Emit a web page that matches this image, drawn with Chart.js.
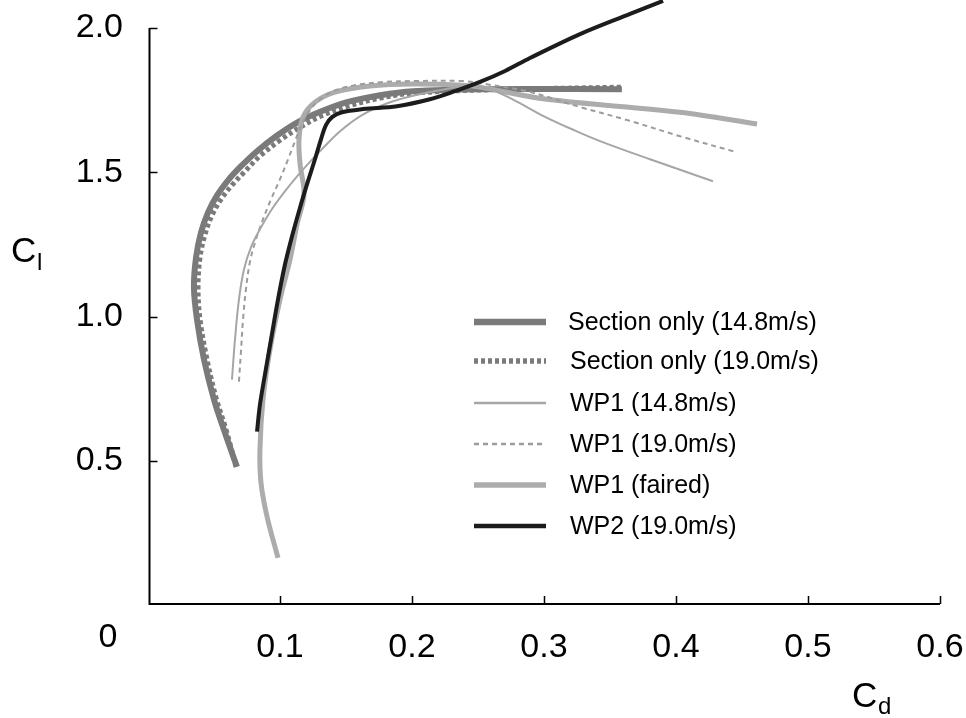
<!DOCTYPE html>
<html>
<head>
<meta charset="utf-8">
<title>Cl vs Cd</title>
<script src="https://cdn.jsdelivr.net/npm/chart.js@4.4.1/dist/chart.umd.min.js"></script>
<style>
    html, body { margin: 0; padding: 0; background: #fff; }
    #chart-cl-cd { display: block; }
</style>
</head>
<body>
<canvas id="chart-cl-cd" width="966" height="718"></canvas>
<script>
"use strict";

// Series: drag coefficient (Cd) and lift coefficient (Cl)
let sectionSlowCd = [0.0674, 0.0583, 0.0500, 0.0424, 0.0371, 0.0348, 0.0364, 0.0402, 0.0455, 0.0523, 0.0606, 0.0705, 0.0826, 0.0970, 0.1136, 0.1318, 0.1508, 0.1758, 0.2008, 0.2515, 0.3590];
let sectionSlowCl = [0.479, 0.597, 0.712, 0.851, 0.990, 1.101, 1.205, 1.292, 1.361, 1.420, 1.472, 1.521, 1.573, 1.625, 1.674, 1.712, 1.743, 1.767, 1.781, 1.788, 1.788];

let sectionFastCd = [0.0667, 0.0591, 0.0515, 0.0447, 0.0394, 0.0379, 0.0394, 0.0432, 0.0485, 0.0553, 0.0636, 0.0735, 0.0848, 0.0992, 0.1152, 0.1326, 0.1515, 0.1758, 0.2008, 0.2515, 0.3590];
let sectionFastCl = [0.479, 0.608, 0.719, 0.851, 0.990, 1.101, 1.205, 1.285, 1.351, 1.406, 1.455, 1.503, 1.556, 1.608, 1.656, 1.698, 1.729, 1.757, 1.774, 1.785, 1.795];

let wp1SlowCd = [0.0636, 0.0659, 0.0689, 0.0727, 0.0780, 0.0856, 0.0947, 0.1061, 0.1189, 0.1318, 0.1455, 0.1621, 0.1818, 0.2023, 0.2250, 0.2439, 0.2606, 0.2773, 0.3000, 0.3227, 0.3424, 0.3803, 0.4280];
let wp1SlowCl = [0.781, 0.920, 1.059, 1.163, 1.240, 1.309, 1.378, 1.448, 1.517, 1.580, 1.642, 1.698, 1.740, 1.767, 1.788, 1.799, 1.785, 1.750, 1.694, 1.646, 1.608, 1.545, 1.469];

let wp1FastCd = [0.0689, 0.0705, 0.0720, 0.0742, 0.0773, 0.0818, 0.0871, 0.0932, 0.1000, 0.1061, 0.1114, 0.1159, 0.1212, 0.1288, 0.1402, 0.1568, 0.1795, 0.2008, 0.2386, 0.2553, 0.2894, 0.3273, 0.3629, 0.4030, 0.4462];
let wp1FastCl = [0.774, 0.885, 0.990, 1.094, 1.191, 1.267, 1.337, 1.406, 1.476, 1.545, 1.608, 1.660, 1.705, 1.747, 1.781, 1.802, 1.813, 1.816, 1.816, 1.806, 1.778, 1.726, 1.681, 1.625, 1.569];

let wp1FairedCd = [0.0985, 0.0902, 0.0856, 0.0848, 0.0871, 0.0924, 0.1000, 0.1076, 0.1129, 0.1182, 0.1152, 0.1144, 0.1174, 0.1265, 0.1417, 0.1682, 0.2008, 0.2386, 0.2515, 0.3023, 0.4030, 0.4614];
let wp1FairedCl = [0.163, 0.306, 0.424, 0.538, 0.712, 0.885, 1.059, 1.198, 1.319, 1.424, 1.528, 1.615, 1.691, 1.743, 1.778, 1.799, 1.806, 1.802, 1.795, 1.753, 1.708, 1.667];

let wp2FastCd = [0.0826, 0.0848, 0.0886, 0.0932, 0.0985, 0.1038, 0.1091, 0.1152, 0.1212, 0.1265, 0.1311, 0.1348, 0.1394, 0.1470, 0.1629, 0.1886, 0.2136, 0.2326, 0.2515, 0.2705, 0.2894, 0.3273, 0.3652, 0.3902];
let wp2FastCl = [0.601, 0.694, 0.799, 0.920, 1.059, 1.181, 1.278, 1.378, 1.469, 1.545, 1.615, 1.663, 1.691, 1.708, 1.719, 1.729, 1.753, 1.781, 1.813, 1.851, 1.896, 1.979, 2.049, 2.094];

let seriesLabels = ["Section only (14.8m/s)", "Section only (19.0m/s)", "WP1 (14.8m/s)", "WP1 (19.0m/s)", "WP1 (faired)", "WP2 (19.0m/s)"];

// Tick labels
let xTicks = [0.1, 0.2, 0.3, 0.4, 0.5, 0.6];
let yTicks = [0.5, 1.0, 1.5, 2.0];

let fontName = "'Liberation Sans', Arial, Helvetica, sans-serif";

function toPoints(cd, cl) {
    let pts = [];
    for (let i = 0; i < cd.length; i++) {
        pts.push({ x: cd[i], y: cl[i] });
    }
    return pts;
}

function makeSet(label, cd, cl, color, width, dash, order) {
    return {
        "label": label,
        "data": toPoints(cd, cl),
        "showLine": true,
        "borderColor": color,
        "backgroundColor": color,
        "borderWidth": width,
        "borderDash": dash,
        "borderCapStyle": "butt",
        "pointRadius": 0,
        "tension": 0.35,
        "fill": false,
        "clip": false,
        "order": order
    };
}

let datasets = [
    makeSet(seriesLabels[0], sectionSlowCd, sectionSlowCl, "#7a7a7a", 6, [], 6),
    makeSet(seriesLabels[1], sectionFastCd, sectionFastCl, "#7a7a7a", 5, [4, 3], 5),
    makeSet(seriesLabels[2], wp1SlowCd, wp1SlowCl, "#a6a6a6", 2, [], 2),
    makeSet(seriesLabels[3], wp1FastCd, wp1FastCl, "#9c9c9c", 2, [5, 4], 3),
    makeSet(seriesLabels[4], wp1FairedCd, wp1FairedCl, "#acacac", 5, [], 4),
    makeSet(seriesLabels[5], wp2FastCd, wp2FastCl, "#1c1c1c", 4, [], 1)
];

// Axis lines, inward ticks, the lone "0", axis titles and the legend
let decorPlugin = {
    id: "decor",
    afterDraw(chart) {
        let ctx = chart.ctx;
        let xs = chart.scales.x;
        let ys = chart.scales.y;

        ctx.save();
        ctx.strokeStyle = "#000";
        ctx.lineWidth = 2;
        let ax = xs.getPixelForValue(0) + 1.5;
        let ay = ys.getPixelForValue(0) - 1;
        ctx.beginPath();
        ctx.moveTo(ax, ys.getPixelForValue(2.0));
        ctx.lineTo(ax, ay);
        ctx.lineTo(xs.getPixelForValue(0.6), ay);
        ctx.stroke();

        ctx.lineWidth = 1.5;
        ctx.beginPath();
        xTicks.forEach(function (v) {
            let px = Math.round(xs.getPixelForValue(v)) + 0.5;
            ctx.moveTo(px, ay);
            ctx.lineTo(px, ay - 8);
        });
        yTicks.forEach(function (v) {
            let py = Math.round(ys.getPixelForValue(v)) + 0.5;
            ctx.moveTo(ax, py);
            ctx.lineTo(ax + 8, py);
        });
        ctx.stroke();

        ctx.fillStyle = "#000";
        ctx.font = "34px " + fontName;
        ctx.textAlign = "center";
        ctx.textBaseline = "middle";
        ctx.fillText("0", xs.getPixelForValue(0) - 40, 638);

        // axis titles with subscripts
        ctx.textAlign = "left";
        ctx.textBaseline = "alphabetic";
        ctx.font = "35px " + fontName;
        ctx.fillText("C", 11, 262);
        ctx.fillText("C", 852, 707);
        ctx.font = "24px " + fontName;
        ctx.fillText("l", 37, 270);
        ctx.fillText("d", 878, 714);

        // legend
        let rowY = [322, 361, 403, 444, 485, 526];
        ctx.font = "25px " + fontName;
        ctx.textBaseline = "middle";
        for (let i = 0; i < datasets.length; i++) {
            let ds = datasets[i];
            ctx.strokeStyle = ds.borderColor;
            ctx.lineWidth = ds.borderWidth + 0.5;
            ctx.lineCap = "butt";
            ctx.setLineDash(ds.borderDash);
            ctx.beginPath();
            ctx.moveTo(474, rowY[i]);
            ctx.lineTo(546, rowY[i]);
            ctx.stroke();
            ctx.setLineDash([]);
            ctx.fillStyle = "#000";
            ctx.fillText(ds.label, i === 0 ? 568 : 570, rowY[i] + 1);
        }
        ctx.restore();
    }
};

let canvas = document.getElementById("chart-cl-cd");

let myChart = new Chart(canvas, {
    "type": "scatter",
    "data": { "datasets": datasets },
    "options": {
        responsive: false,
        animation: false,
        layout: { padding: { left: 0, top: 28, right: 26, bottom: 0 } },
        plugins: {
            legend: { display: false },
            tooltip: { enabled: false }
        },
        scales: {
            x: {
                type: "linear",
                min: 0,
                max: 0.6,
                afterFit: function (scale) {
                    scale.height = 113;
                    scale.paddingLeft = 0;
                    scale.paddingRight = 0;
                },
                afterBuildTicks: function (scale) {
                    scale.ticks = xTicks.map(function (v) { return { value: v }; });
                },
                grid: { display: false, drawTicks: false },
                border: { display: false },
                ticks: {
                    autoSkip: false,
                    maxRotation: 0,
                    padding: 22,
                    color: "#000",
                    font: { family: fontName, size: 34 },
                    callback: function (v) { return Number(v).toFixed(1); }
                }
            },
            y: {
                type: "linear",
                min: 0,
                max: 2.0,
                afterFit: function (scale) {
                    scale.width = 148;
                    scale.paddingTop = 0;
                    scale.paddingBottom = 0;
                },
                afterBuildTicks: function (scale) {
                    scale.ticks = yTicks.map(function (v) { return { value: v }; });
                },
                grid: { display: false, drawTicks: false },
                border: { display: false },
                ticks: {
                    autoSkip: false,
                    padding: 25,
                    color: "#000",
                    font: { family: fontName, size: 34 },
                    callback: function (v) { return Number(v).toFixed(1); }
                }
            }
        }
    },
    "plugins": [decorPlugin]
});
</script>
</body>
</html>
